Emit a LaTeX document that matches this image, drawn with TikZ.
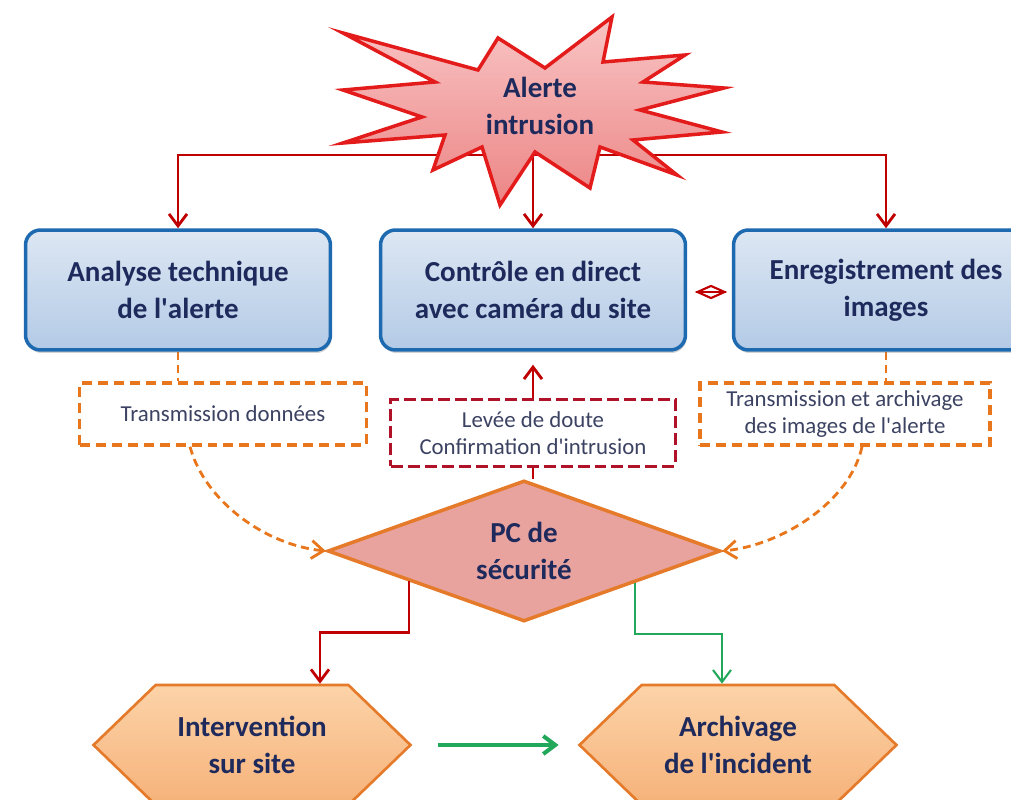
\documentclass[tikz,border=0pt]{standalone}
\usepackage{fontspec}
\setmainfont{Carlito}
\usepackage{tikz}
\usetikzlibrary{shapes.geometric, shapes.symbols, arrows.meta, backgrounds, calc, shadows}

\definecolor{navytext}{HTML}{1F2A5C}
\definecolor{greytext}{HTML}{3C4262}
\definecolor{boxborder}{HTML}{1E6AB0}
\definecolor{boxtop}{HTML}{DDE7F3}
\definecolor{boxbottom}{HTML}{B3CAE6}
\definecolor{starborder}{HTML}{E31B1B}
\definecolor{startop}{HTML}{F9C4C4}
\definecolor{starbottom}{HTML}{EC8585}
\definecolor{linkred}{HTML}{C00000}
\definecolor{doubtred}{HTML}{B0122A}
\definecolor{dashorange}{HTML}{E8761C}
\definecolor{pcfill}{HTML}{E8A39F}
\definecolor{pcborder}{HTML}{E47A2A}
\definecolor{hextop}{HTML}{FCD3A8}
\definecolor{hexbottom}{HTML}{F6B27A}
\definecolor{linkgreen}{HTML}{22A85A}
\newcommand{\apos}{\textquotesingle}

\begin{document}
\begin{tikzpicture}[x=0.02cm, y=-0.02cm, >={Straight Barb[length=2.4mm, width=3.6mm]},
	bigtext/.style={align=center, text=navytext, font=\fontsize{16.5}{21}\selectfont\bfseries},
	smalltext/.style={align=center, text=greytext, font=\fontsize{13}{15}\selectfont},
	bluebox/.style={bigtext, draw=boxborder, line width=2pt, rounded corners=0.3cm, top color=boxtop, bottom color=boxbottom, minimum width=6.1cm, minimum height=2.4cm, drop shadow={opacity=0.35, shadow xshift=0.02cm, shadow yshift=-0.06cm}},
	dashbox/.style={smalltext, draw=dashorange, line width=2pt, dash pattern=on 0.2cm off 0.12cm, fill=white, minimum height=1.24cm},
	hexbox/.style={bigtext, signal, signal to=west and east, signal pointer angle=88, draw=pcborder, line width=1.5pt, top color=hextop, bottom color=hexbottom, minimum width=6.34cm, minimum height=2.4cm},
	redarrow/.style={->, draw=linkred, line width=1.6pt},
	greenarrow/.style={->, draw=linkgreen, line width=1.2pt},
	orangecurve/.style={->, draw=dashorange, line width=1.6pt, dash pattern=on 0.16cm off 0.1cm},
	]
		\useasboundingbox (0, 0) rectangle (1011, 800);
		\clip (0, 0) rectangle (1011, 800);
		\small
		% alerte
		\draw[draw=starborder, line width=2pt, line join=miter, top color=startop, bottom color=starbottom]
			(343, 33) -- (478, 70) -- (498, 38) -- (545, 68) -- (612, 17) -- (603, 62) -- (685, 55) -- (643, 82)
			-- (724, 88) -- (640, 110) -- (722, 132) -- (633, 140) -- (677, 175) -- (600, 147) -- (590, 188) -- (535, 152)
			-- (500, 205) -- (482, 147) -- (433, 170) -- (445, 135) -- (343, 143) -- (422, 117) -- (343, 90) -- (435, 82) -- cycle;
		\node[bigtext] at (540, 106) (alerte) {Alerte\\intrusion};
		\coordinate (hub) at (533, 155);
		% blocs
		\node[bluebox] at (178, 290) (analyse) {Analyse technique\\de l\apos alerte};
		\node[bluebox] at (533, 290) (controle) {Contrôle en direct\\avec caméra du site};
		\node[bluebox] at (886, 290) (enregistrement) {Enregistrement des\\images};
		\node[diamond, draw=linkred, line width=1.2pt, aspect=2.2, inner sep=0pt, minimum width=0.56cm, minimum height=0.26cm] at (711, 292) (liaison) {};
		\draw[linkred, line width=1.2pt] (liaison.west) -- (liaison.east);
		% transmissions
		\node[dashbox, minimum width=5.74cm] at (223, 414) (trans-donnees) {Transmission données};
		\node[dashbox, draw=doubtred, dash pattern=on 0.24cm off 0.1cm, minimum width=5.7cm, minimum height=1.34cm] at (533, 433) (levee-doute) {Levée de doute\\Confirmation d\apos intrusion};
		\node[dashbox, minimum width=5.8cm] at (845, 414) (trans-images) {Transmission et archivage\\des images de l\apos alerte};
		% pc
		\node[bigtext, diamond, aspect=2.8, draw=pcborder, line width=2pt, fill=pcfill, inner sep=0pt, minimum width=7.86cm, minimum height=2.82cm] at (524, 551) (pc-securite) {PC de\\sécurité};
		\node[hexbox] at (252, 745) (intervention) {Intervention\\sur site};
		\node[hexbox] at (738, 745) (archivage) {Archivage\\de l\apos incident};
		\begin{scope}[on background layer]
			\draw[redarrow] (hub) -| (analyse.north);
			\draw[redarrow] (hub) -- (controle.north);
			\draw[redarrow] (hub) -| (enregistrement.north);
			\draw[orangecurve, -] (analyse.south) -- (analyse.south |- trans-donnees.north);
			\draw[orangecurve, -] (enregistrement.south) -- (enregistrement.south |- trans-images.north);
		\end{scope}
		\draw[redarrow, shorten >=0.26cm] (levee-doute.north) -- (controle.south);
		\draw[linkred, line width=1.6pt] (levee-doute.south) -- (levee-doute.south |- pc-securite.north);
		\draw[orangecurve] ([xshift=-0.66cm]trans-donnees.south) .. controls +(15, 55) and +(-60, -6) .. (pc-securite.west);
		\draw[orangecurve] ([xshift=0.34cm]trans-images.south) .. controls +(-12, 55) and +(60, -6) .. (pc-securite.east);
		\draw[redarrow] ($(pc-securite.west)!0.42!(pc-securite.south)$) -- ++(0, 51) -| ([xshift=1.36cm]intervention.north);
		\draw[greenarrow] ($(pc-securite.east)!0.44!(pc-securite.south)$) -- ++(0, 51) -| ([xshift=-0.32cm]archivage.north);
		\draw[greenarrow, line width=2.3pt, shorten <=0.52cm, shorten >=0.38cm] (intervention.east) -- (archivage.west);
	\end{tikzpicture}
\end{document}
